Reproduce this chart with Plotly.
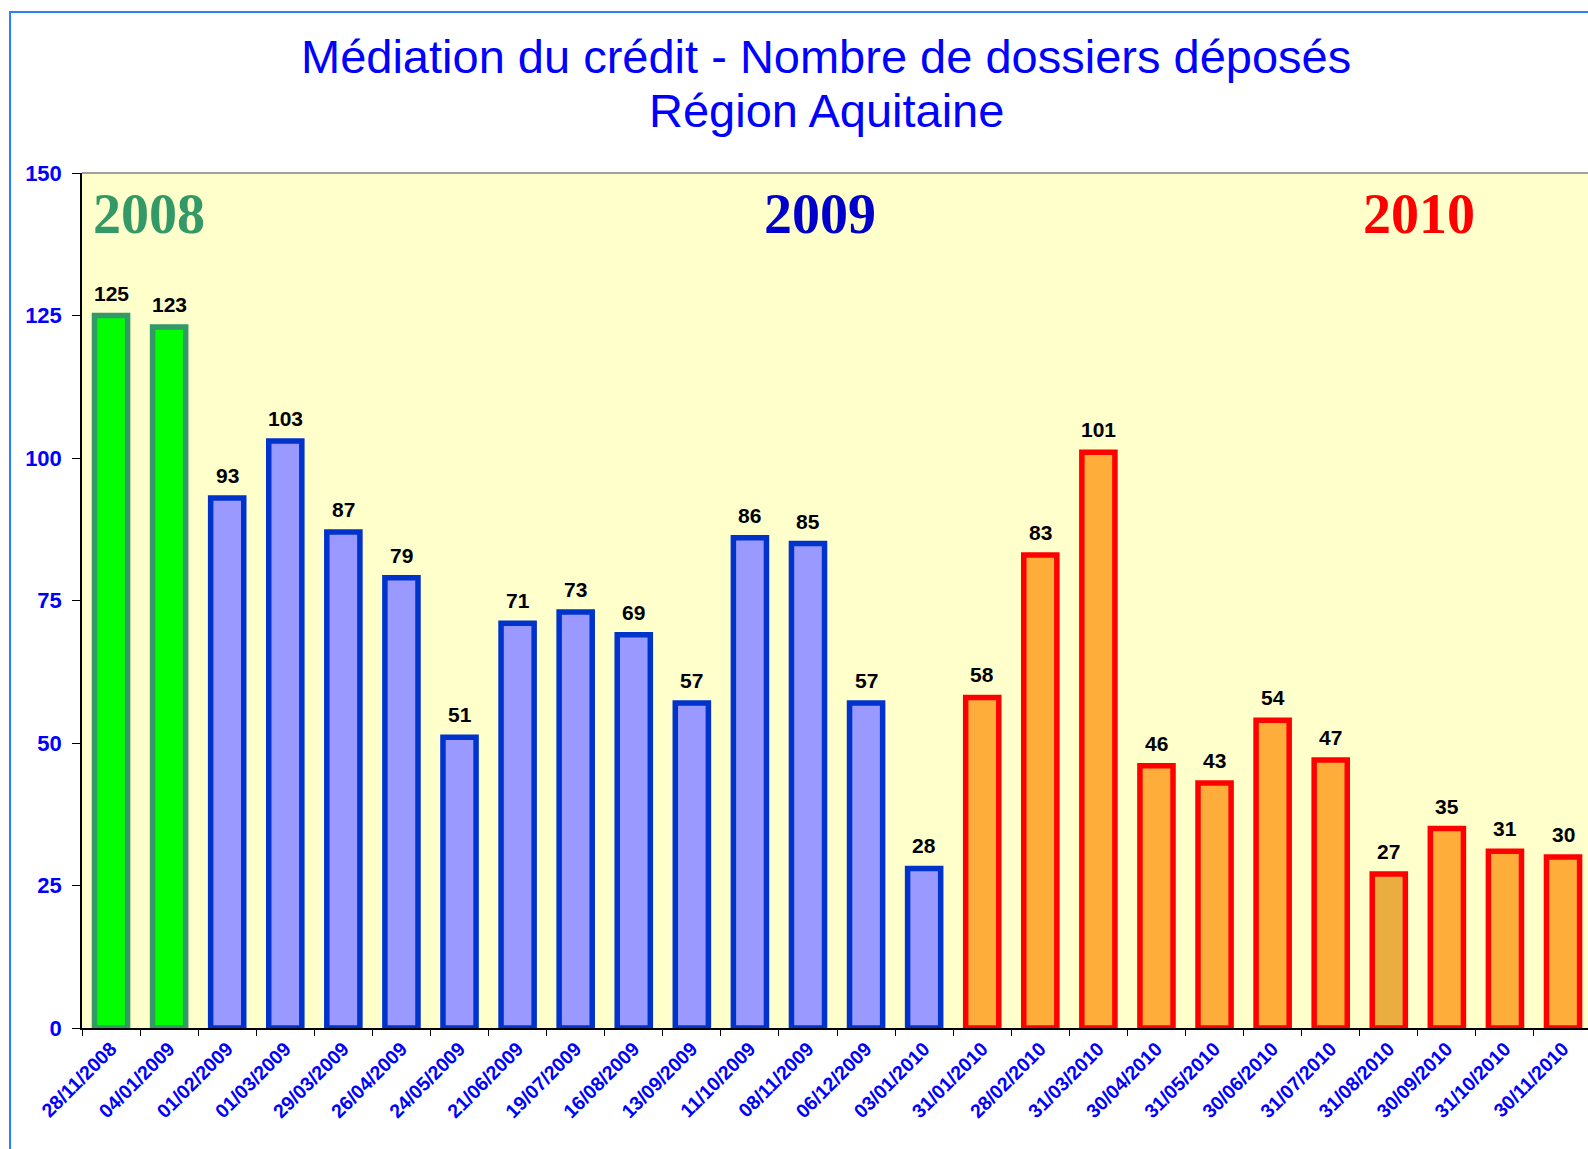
import plotly.graph_objects as go

dates = ["28/11/2008", "04/01/2009", "01/02/2009", "01/03/2009", "29/03/2009", "26/04/2009",
         "24/05/2009", "21/06/2009", "19/07/2009", "16/08/2009", "13/09/2009", "11/10/2009",
         "08/11/2009", "06/12/2009", "03/01/2010", "31/01/2010", "28/02/2010", "31/03/2010",
         "30/04/2010", "31/05/2010", "30/06/2010", "31/07/2010", "31/08/2010", "30/09/2010",
         "31/10/2010", "30/11/2010"]
dossiers = [125, 123, 93, 103, 87, 79, 51, 71, 73, 69, 57, 86, 85, 57, 28,
            58, 83, 101, 46, 43, 54, 47, 27, 35, 31, 30]
groups = ["2008", "2008"] + ["2009"] * 13 + ["2010"] * 11

fill_by_group = {"2008": "#00FF00", "2009": "#9999FF", "2010": "#FFAD3A"}
line_by_group = {"2008": "#339966", "2009": "#0033CC", "2010": "#FF0000"}
fills = [fill_by_group[g] for g in groups]
fills[dates.index("31/08/2010")] = "#EAAE40"
lines = [line_by_group[g] for g in groups]

W, H = 1588, 1149
L, R, T, B = 82, 0, 173, 121
pw, ph = W - L - R, H - T - B

def px_x(x):
    return (x - L) / pw

def px_y(y):
    return (H - B - y) / ph

fig = go.Figure()
fig.add_trace(go.Bar(
    x=dates, y=dossiers,
    marker=dict(color=fills, line=dict(color=lines, width=5.5)),
    cliponaxis=False,
))

label_font = dict(family="Arial, Liberation Sans", size=21, color="black", weight="bold")
for d, v in zip(dates, dossiers):
    fig.add_annotation(x=d, y=v, xref="x", yref="y", text=str(v), showarrow=False,
                       xanchor="center", yanchor="bottom", yshift=9, font=label_font)

fig.update_layout(
    width=W, height=H,
    margin=dict(l=L, r=R, t=T, b=B, pad=0),
    paper_bgcolor="white",
    plot_bgcolor="#FFFFCC",
    showlegend=False,
    bargap=0.43,
    xaxis=dict(
        type="category",
        range=[-0.5, 25.43],
        tickangle=-45,
        tickson="boundaries",
        ticks="outside", ticklen=6, tickcolor="black",
        showline=True, linecolor="black", linewidth=1.5,
        showgrid=False,
        tickfont=dict(family="Arial, Liberation Sans", size=19.5, color="#0000FF", weight="bold"),
    ),
    yaxis=dict(
        range=[0, 150],
        tickvals=[0, 25, 50, 75, 100, 125, 150],
        ticks="outside", ticklen=8, tickcolor="black",
        showline=True, linecolor="black", linewidth=1.5,
        showgrid=False, zeroline=False,
        tickfont=dict(family="Arial, Liberation Sans", size=22, color="#0000FF", weight="bold"),
        ticklabelstandoff=6,
    ),
)

# plot-area top border
fig.add_shape(type="line", xref="paper", yref="paper", x0=0, x1=1, y0=1, y1=1,
              line=dict(color="#808080", width=1.5))
# outer blue frame
fig.add_shape(type="rect", xref="paper", yref="paper",
              x0=px_x(10), x1=px_x(1700), y0=px_y(1300), y1=px_y(12),
              line=dict(color="#2A80FF", width=2))

title_font = dict(family="Arial, Liberation Sans", size=47, color="#0000FF")
fig.add_annotation(text="Médiation du crédit - Nombre de dossiers déposés",
                   xref="paper", yref="paper", x=px_x(826), y=px_y(56),
                   xanchor="center", yanchor="middle", showarrow=False, font=title_font)
fig.add_annotation(text="Région Aquitaine",
                   xref="paper", yref="paper", x=px_x(826), y=px_y(110),
                   xanchor="center", yanchor="middle", showarrow=False, font=title_font)

year_labels = ["2008", "2009", "2010"]
year_colors = ["#339966", "#0000CC", "#FF0000"]
year_px = [149, 820, 1419]
for lab, col, xp in zip(year_labels, year_colors, year_px):
    fig.add_annotation(text=lab, xref="paper", yref="paper", x=px_x(xp), y=px_y(214),
                       xanchor="center", yanchor="middle", showarrow=False,
                       font=dict(family="Times New Roman, Liberation Serif", size=56,
                                 color=col, weight="bold"))

fig.write_html("out.html", config={"displayModeBar": False},
               post_script="document.body.style.margin='0px';")
